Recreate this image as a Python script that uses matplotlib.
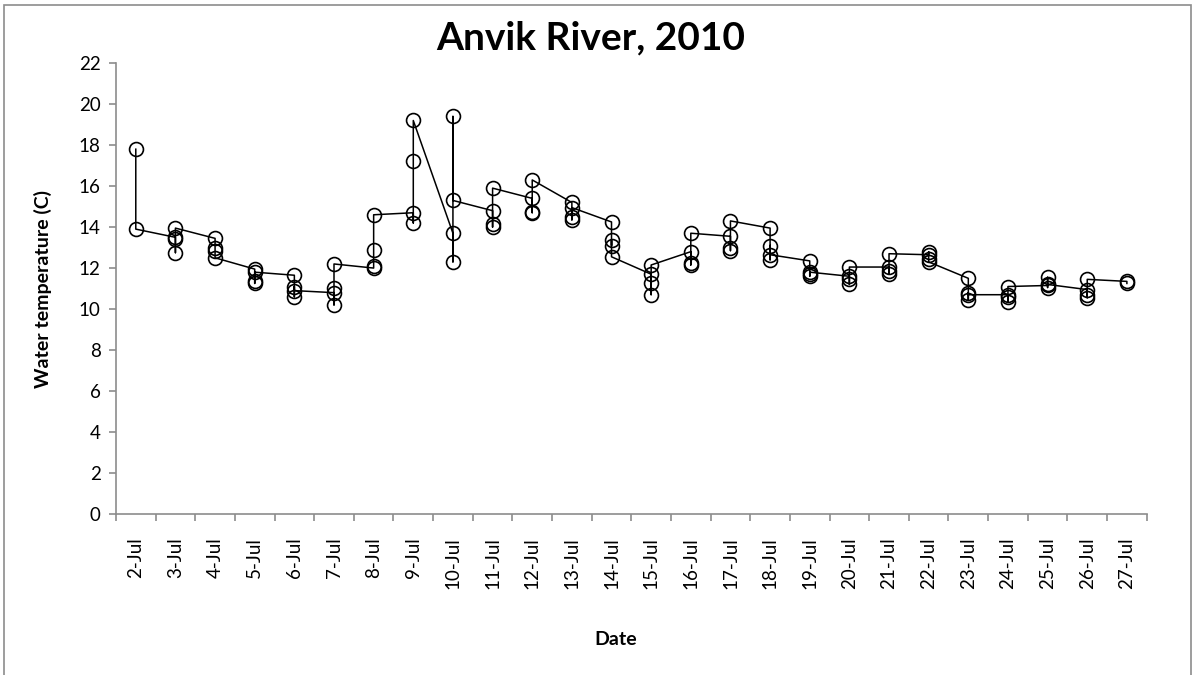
import matplotlib
matplotlib.use('Agg')
import matplotlib.pyplot as plt
from matplotlib.patches import Rectangle
import numpy as np

plt.rcParams['font.family'] = ['Lato', 'DejaVu Sans']

days = ['2-Jul', '3-Jul', '4-Jul', '5-Jul', '6-Jul', '7-Jul', '8-Jul', '9-Jul', '10-Jul',
        '11-Jul', '12-Jul', '13-Jul', '14-Jul', '15-Jul', '16-Jul', '17-Jul', '18-Jul',
        '19-Jul', '20-Jul', '21-Jul', '22-Jul', '23-Jul', '24-Jul', '25-Jul', '26-Jul', '27-Jul']

# readings per day, in time order
readings = [
    [17.8, 13.9],
    [13.5, 13.4, 12.75, 13.95],
    [13.45, 13.0, 12.85, 12.5],
    [11.95, 11.25, 11.35, 11.8],
    [11.65, 10.6, 11.1, 10.9],
    [10.8, 10.2, 11.05, 12.2],
    [12.0, 12.1, 12.9, 14.6],
    [14.7, 14.2, 17.2, 19.2],
    [13.7, 12.3, 19.4, 15.3],
    [14.8, 14.0, 14.15, 15.9],
    [15.4, 14.7, 14.75, 16.3],
    [15.2, 14.35, 14.5, 14.95],
    [14.25, 13.1, 13.35, 12.55],
    [11.7, 10.7, 11.25, 12.15],
    [12.8, 12.15, 12.25, 13.7],
    [13.55, 12.85, 13.0, 14.3],
    [13.95, 12.4, 13.1, 12.65],
    [12.35, 11.6, 11.7, 11.8],
    [11.6, 11.2, 11.45, 12.05],
    [12.05, 11.7, 11.85, 12.7],
    [12.65, 12.8, 12.45, 12.3],
    [11.5, 10.45, 10.8, 10.7],
    [10.7, 10.35, 10.6, 11.1],
    [11.15, 11.55, 11.05, 11.2],
    [10.95, 10.55, 10.7, 11.45],
    [11.35, 11.25],
]

x = np.concatenate([[i] * len(r) for i, r in enumerate(readings)])
y = np.concatenate(readings)

fig = plt.figure(figsize=(11.93, 6.75), dpi=100)
ax = fig.add_axes([0.0972, 0.2385, 0.864, 0.668])

# chart area border (runs off the bottom edge like the original)
fig.patches.append(Rectangle((0.0034, -0.02), 0.9949, 1.0126, transform=fig.transFigure,
                             fill=False, edgecolor='#8c8c8c', linewidth=1.2))

ax.plot(x, y, color='black', linewidth=1.1, marker='o', markersize=10,
        markerfacecolor='none', markeredgecolor='black', markeredgewidth=1.2)

ax.set_xlim(-0.5, len(days) - 0.5)
ax.set_ylim(0, 22)
ax.set_yticks(np.arange(0, 23, 2))
ax.set_xticks(np.arange(len(days)))
ax.set_xticklabels(days, rotation=90)
ax.set_xticks(np.arange(-0.5, len(days), 1), minor=True)

for s in ['top', 'right']:
    ax.spines[s].set_visible(False)
for s in ['left', 'bottom']:
    ax.spines[s].set_color('#8c8c8c')
    ax.spines[s].set_linewidth(1.2)

ax.tick_params(axis='y', direction='out', length=5, width=1.2, color='#8c8c8c', labelsize=13.5, pad=6)
ax.tick_params(axis='x', which='major', length=0, labelsize=13.5, pad=17)
ax.tick_params(axis='x', which='minor', direction='out', length=5, width=1.2, color='#8c8c8c')

fig.text(0.495, 0.944, 'Anvik River, 2010', fontsize=28, fontweight='bold',
         ha='center', va='center')
fig.text(0.036, 0.572, 'Water temperature (C)', fontsize=14, fontweight='bold',
         rotation=90, ha='center', va='center')
fig.text(0.516, 0.052, 'Date', fontsize=14, fontweight='bold', ha='center', va='center')

fig.savefig('out.png', dpi=100)
